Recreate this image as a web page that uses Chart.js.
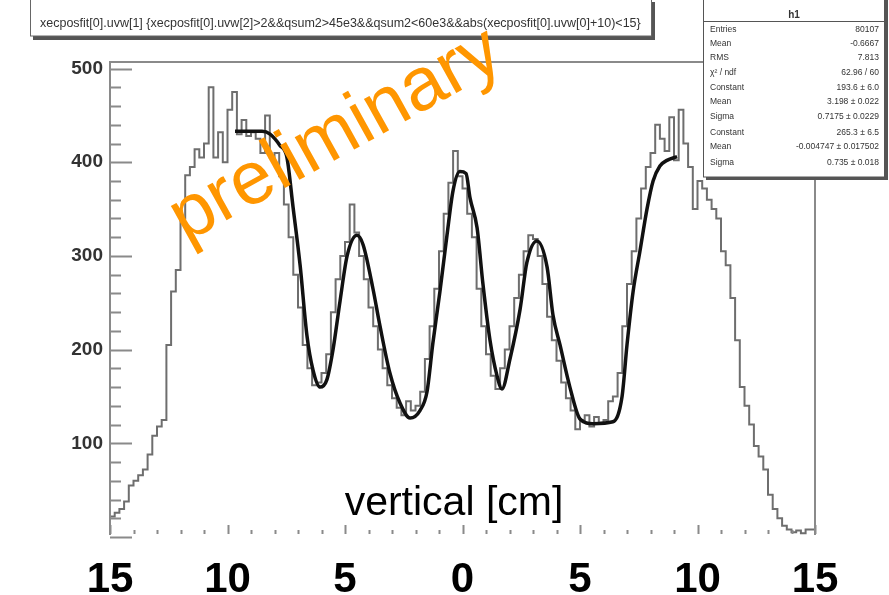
<!DOCTYPE html>
<html>
<head>
<meta charset="utf-8">
<script src="https://cdn.jsdelivr.net/npm/chart.js@4.4.0/dist/chart.umd.min.js"></script>
<style>
  html, body { margin: 0; padding: 0; background: #fff; }
  canvas { display: block; }
</style>
</head>
<body>
<canvas id="myChart" width="889" height="595"></canvas>
<script>
// histogram: 150 bins of 0.2 cm from -15 to 15
const binLow = -15;
const binWidth = 0.2;
const counts = [
  18, 22, 26, 30, 38, 55, 60, 66, 72, 88,
  108, 118, 125, 205, 262, 285, 340, 386, 395, 414,
  405, 420, 480, 405, 432, 400, 456, 475, 430, 445,
  428, 432, 425, 410, 450, 405, 410, 385, 355, 320,
  280, 245, 205, 180, 162, 165, 175, 195, 240, 275,
  300, 315, 355, 325, 300, 275, 245, 225, 200, 180,
  162, 148, 138, 130, 145, 135, 140, 155, 190, 225,
  265, 305, 345, 378, 412, 385, 372, 345, 320, 265,
  225, 195, 172, 158, 180, 200, 225, 255, 280, 305,
  322, 318, 300, 270, 235, 210, 188, 165, 148, 135,
  115, 125, 130, 118, 128, 122, 125, 145, 150, 175,
  225, 270, 305, 340, 372, 395, 410, 440, 425, 412,
  448, 402, 456, 420, 395, 350, 380, 372, 360, 350,
  340, 305, 290, 255, 210, 160, 140, 120, 97, 86,
  72, 45, 30, 20, 12, 8, 5, 7, 4, 8,
];

// fit curve
const fitX = [
  -9.68, -8.53, -8.19, -7.77, -7.47, -7.21, -6.91, -6.62, -6.36, -6.06,
  -5.77, -5.51, -5.21, -4.91, -4.49, -4.23, -3.81, -3.51, -3.09, -2.66,
  -2.23, -1.81, -1.51, -1.26, -0.96, -0.66, -0.4, -0.11, 0.15, 0.32,
  0.62, 0.87, 1.17, 1.47, 1.68, 2.02, 2.45, 2.74, 3.17, 3.6,
  3.85, 4.15, 4.57, 5.0, 5.55, 6.4, 6.79, 7.0, 7.26, 7.55,
  7.85, 8.11, 8.4, 8.7, 9.13,
];
const fitY = [
  433, 433, 430, 418, 405, 352, 290, 215, 178, 160,
  168, 200, 252, 300, 322, 312, 265, 225, 175, 143,
  127, 135, 155, 207, 262, 322, 370, 390, 388, 362,
  330, 270, 210, 172, 158, 190, 243, 293, 316, 288,
  237, 205, 160, 126, 121, 123, 150, 205, 262, 305,
  350, 380, 396, 402, 406,
];

const xTicks = [-15, -10, -5, 0, 5, 10, 15];
const yTicks = [0, 100, 200, 300, 400, 500];

const titleText =
  "xecposfit[0].uvw[1] {xecposfit[0].uvw[2]>2&&qsum2>45e3&&qsum2<60e3&&abs(xecposfit[0].uvw[0]+10)<15}";
const statLabels = ["Entries", "Mean", "RMS", "\u03c7\u00b2 / ndf", "Constant", "Mean", "Sigma", "Constant", "Mean", "Sigma"];
const statValues = [
  "80107", "-0.6667", "7.813", "62.96 / 60", "193.6 \u00b1 6.0", "3.198 \u00b1 0.022",
  "0.7175 \u00b1 0.0229", "265.3 \u00b1 6.5", "-0.004747 \u00b1 0.017502", "0.735 \u00b1 0.018",
];

const histPoints = counts.map((c, i) => ({ x: binLow + i * binWidth, y: c }));
histPoints.push({ x: binLow + counts.length * binWidth, y: counts[counts.length - 1] });
const fitPoints = fitX.map((x, i) => ({ x: x, y: fitY[i] }));

const font = '"Liberation Sans", Arial, sans-serif';

// frame, ticks, boxes and the overlay texts
const decor = {
  id: "decor",
  afterDraw(chart) {
    const { ctx, chartArea: a } = chart;
    const x = chart.scales.x;
    const y = chart.scales.y;
    ctx.save();
    ctx.strokeStyle = "#8a8a8a";
    ctx.lineWidth = 2;
    ctx.beginPath();
    ctx.moveTo(a.left, a.bottom - 2);
    ctx.lineTo(a.left, a.top);
    ctx.lineTo(a.right, a.top);
    ctx.lineTo(a.right, a.bottom - 2);
    ctx.stroke();

    ctx.beginPath();
    for (let v = 0; v <= 500; v += 20) {
      const py = Math.round(y.getPixelForValue(v)) + 0.5;
      const len = v % 100 === 0 ? 22 : 11;
      ctx.moveTo(a.left, py);
      ctx.lineTo(a.left + len, py);
    }
    for (let v = -15; v <= 15; v++) {
      const px = Math.round(x.getPixelForValue(v)) + 0.5;
      const len = v % 5 === 0 ? 9 : 4;
      ctx.moveTo(px, a.bottom - 3);
      ctx.lineTo(px, a.bottom - 3 - len);
    }
    ctx.stroke();

    // axis title inside the frame
    ctx.fillStyle = "#000";
    ctx.font = "41px " + font;
    ctx.textAlign = "center";
    ctx.textBaseline = "alphabetic";
    ctx.fillText("vertical [cm]", 454, 515);

    // title box
    ctx.fillStyle = "#555";
    ctx.fillRect(33, 2, 622, 38);
    ctx.fillStyle = "#fff";
    ctx.fillRect(30, -2, 622, 38);
    ctx.strokeStyle = "#666";
    ctx.lineWidth = 1;
    ctx.strokeRect(30.5, -2, 621, 38);
    ctx.fillStyle = "#333";
    ctx.font = "12.5px " + font;
    ctx.textAlign = "left";
    ctx.fillText(titleText, 40, 27, 602);

    // stats box
    ctx.fillStyle = "#555";
    ctx.fillRect(706, 0, 182, 180);
    ctx.fillStyle = "#fff";
    ctx.fillRect(703, -2, 182, 179);
    ctx.strokeStyle = "#555";
    ctx.strokeRect(703.5, -2, 181, 179);
    ctx.beginPath();
    ctx.moveTo(703, 21.5);
    ctx.lineTo(885, 21.5);
    ctx.stroke();
    ctx.fillStyle = "#333";
    ctx.textAlign = "center";
    ctx.font = "bold 10px " + font;
    ctx.fillText("h1", 794, 18);
    const rowY = [30, 44, 58, 73, 88, 102, 117, 133, 147, 163];
    ctx.font = "8.5px " + font;
    ctx.textBaseline = "middle";
    statLabels.forEach((label, i) => {
      ctx.textAlign = "left";
      ctx.fillText(label, 710, rowY[i]);
      ctx.textAlign = "right";
      ctx.fillText(statValues[i], 879, rowY[i]);
    });

    // watermark
    ctx.translate(336, 136);
    ctx.rotate((-29 * Math.PI) / 180);
    ctx.fillStyle = "#ff9600";
    ctx.font = "75px " + font;
    ctx.textAlign = "center";
    ctx.fillText("preliminary", 0, 0);
    ctx.restore();
  },
};

const config = {
  type: "line",
  data: {
    datasets: [
      {
        label: "fit",
        data: fitPoints,
        borderColor: "#111",
        borderWidth: 3.5,
        pointRadius: 0,
        cubicInterpolationMode: "monotone",
      },
      {
        label: "h1",
        data: histPoints,
        borderColor: "#6e6e6e",
        borderWidth: 2,
        pointRadius: 0,
        stepped: "after",
      },
    ],
  },
  options: {
    responsive: false,
    animation: false,
    devicePixelRatio: 1,
    layout: { padding: { top: 62, right: 74, left: 0, bottom: 0 } },
    plugins: {
      legend: { display: false },
      tooltip: { enabled: false },
    },
    scales: {
      x: {
        type: "linear",
        min: -15,
        max: 15,
        afterFit: (scale) => {
          scale.height = 58;
        },
        afterBuildTicks: (scale) => {
          scale.ticks = xTicks.map((v) => ({ value: v }));
        },
        grid: { display: false, drawTicks: false },
        border: { display: false },
        ticks: {
          autoSkip: false,
          maxRotation: 0,
          padding: 18,
          color: "#000",
          font: { family: font, size: 42, weight: "bold" },
          callback: (v) => String(Math.abs(v)),
        },
      },
      y: {
        min: 0,
        max: 507,
        afterFit: (scale) => {
          scale.width = 110;
        },
        afterBuildTicks: (scale) => {
          scale.ticks = yTicks.map((v) => ({ value: v }));
        },
        grid: { display: false, drawTicks: false },
        border: { display: false },
        ticks: {
          autoSkip: false,
          padding: 7,
          color: "#333",
          font: { family: font, size: 19, weight: "bold" },
          callback: (v) => (v === 0 ? "" : String(v)),
        },
      },
    },
  },
  plugins: [decor],
};

const myChart = new Chart(document.getElementById("myChart"), config);
</script>
</body>
</html>
